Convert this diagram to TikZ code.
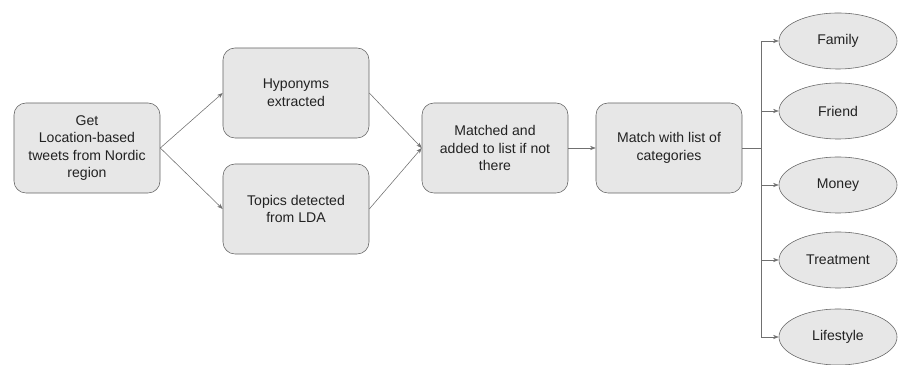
\documentclass[tikz,border=0pt]{standalone}
\usepackage{fontspec}
\setmainfont{Liberation Sans}
\usetikzlibrary{positioning, shapes.geometric, arrows.meta}

\definecolor{boxfill}{RGB}{231,231,231}
\definecolor{boxline}{RGB}{100,100,100}
\definecolor{linkline}{RGB}{112,112,112}
\definecolor{textcol}{RGB}{34,34,34}

\begin{document}
\begin{tikzpicture}[x=0.025cm, y=-0.025cm,
    stepbox/.style={draw=boxline, fill=boxfill, rounded corners=0.3cm, minimum width=3.65cm, minimum height=2.25cm, align=center, text=textcol, font=\fontsize{10}{12.5}\selectfont},
    category/.style={draw=boxline, fill=boxfill, ellipse, minimum width=2.95cm, minimum height=1.4cm, text=textcol, font=\fontsize{10}{12.5}\selectfont},
    link/.style={draw=linkline, -{Stealth[length=4pt, width=3pt]}}]
    \useasboundingbox (0,0) rectangle (900,365);

    \node[stepbox] (tweets) at (87, 148) {Get\\Location-based\\tweets from Nordic\\region};
    \node[stepbox] (hyponyms) at (296, 93) {Hyponyms\\extracted};
    \node[stepbox] (topics) at (296, 209) {Topics detected\\from LDA};
    \node[stepbox] (matched) at (495, 148) {Matched and\\added to list if not\\there};
    \node[stepbox] (matchlist) at (669, 148) {Match with list of\\categories};

    \node[category] (family) at (838, 41) {Family};
    \node[category] (friend) at (838, 111) {Friend};
    \node[category] (money) at (838, 185) {Money};
    \node[category] (treatment) at (838, 260) {Treatment};
    \node[category] (lifestyle) at (838, 337) {Lifestyle};

    \draw[link] (tweets.east) -- (hyponyms.west);
    \draw[link] (tweets.east) -- (topics.west);
    \draw[link] (hyponyms.east) -- (matched.west);
    \draw[link] (topics.east) -- (matched.west);
    \draw[link] (matched) -- (matchlist);

    % branch to the categories
    \coordinate (split) at (761, 148);
    \draw[linkline] (matchlist.east) -- (split);
    \foreach \cat in {family, friend, money, treatment, lifestyle}
        \draw[link] (split) |- (\cat.west);
\end{tikzpicture}
\end{document}
